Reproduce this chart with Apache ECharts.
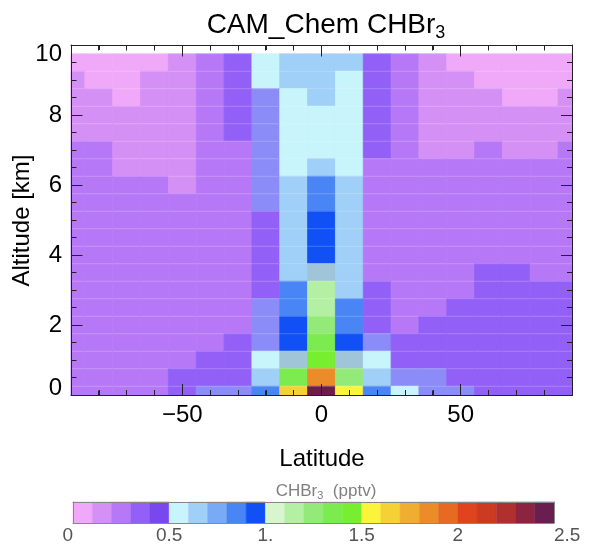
<!DOCTYPE html>
<html><head><meta charset="utf-8">
<script src="https://cdn.jsdelivr.net/npm/echarts@6/dist/echarts.min.js"></script>
<style>html,body{margin:0;padding:0;background:#fff}#c{width:600px;height:544px}</style>
</head><body><div id="c"></div>
<script>
// ---- data ----
var latitudes = [-90,-80,-70,-60,-50,-40,-30,-20,-10,0,10,20,30,40,50,60,70,80,90];
var altitudes = [9.5,9,8.5,8,7.5,7,6.5,6,5.5,5,4.5,4,3.5,3,2.5,2,1.5,1,0.5,0];
// CHBr3 (pptv), one row per altitude (top to bottom), one value per latitude
var chbr3 = [
 [.05,.05,.05,.05,.15,.25,.35,.55,.65,.65,.65,.35,.25,.15,.05,.05,.05,.05,.05],
 [.15,.05,.05,.15,.15,.25,.35,.55,.65,.65,.55,.35,.25,.15,.15,.05,.05,.05,.05],
 [.15,.15,.05,.15,.15,.25,.35,.5,.55,.65,.55,.35,.25,.15,.15,.15,.05,.05,.15],
 [.15,.15,.15,.15,.15,.25,.35,.5,.55,.55,.55,.35,.25,.15,.15,.15,.15,.15,.15],
 [.15,.15,.15,.15,.15,.25,.35,.5,.55,.55,.55,.35,.25,.15,.15,.15,.15,.15,.15],
 [.25,.25,.15,.15,.15,.25,.25,.5,.55,.55,.55,.35,.25,.15,.15,.25,.15,.15,.25],
 [.25,.25,.15,.15,.15,.25,.25,.5,.55,.65,.55,.25,.25,.25,.25,.25,.25,.25,.25],
 [.25,.25,.25,.25,.15,.25,.25,.5,.65,.85,.65,.25,.25,.25,.25,.25,.25,.25,.25],
 [.25,.25,.25,.25,.25,.25,.25,.5,.65,.85,.65,.25,.25,.25,.25,.25,.25,.25,.25],
 [.25,.25,.25,.25,.25,.25,.25,.35,.65,.95,.65,.25,.25,.25,.25,.25,.25,.25,.25],
 [.25,.25,.25,.25,.25,.25,.25,.35,.65,.95,.65,.25,.25,.25,.25,.25,.25,.25,.25],
 [.25,.25,.25,.25,.25,.25,.25,.35,.65,.95,.65,.25,.25,.25,.25,.25,.25,.25,.25],
 [.25,.25,.25,.25,.25,.25,.25,.35,.65,1.0,.65,.25,.25,.25,.25,.35,.35,.25,.25],
 [.25,.25,.25,.25,.25,.25,.25,.35,.85,1.15,.65,.35,.25,.25,.25,.35,.35,.35,.35],
 [.25,.25,.25,.25,.25,.25,.25,.5,.85,1.15,.85,.35,.25,.25,.35,.35,.35,.35,.35],
 [.25,.25,.25,.25,.25,.25,.25,.5,.95,1.25,.85,.35,.25,.35,.35,.35,.35,.35,.35],
 [.25,.25,.25,.25,.25,.25,.35,.5,.95,1.35,.95,.5,.35,.35,.35,.35,.35,.35,.35],
 [.25,.25,.25,.25,.25,.35,.35,.55,1.0,1.45,1.0,.55,.35,.35,.35,.35,.35,.35,.35],
 [.25,.25,.25,.25,.35,.35,.35,.65,1.35,1.85,1.25,.65,.5,.5,.35,.35,.35,.35,.35],
 [.25,.25,.25,.25,.35,.5,.5,.85,1.65,2.45,1.55,.85,.55,.5,.5,.35,.35,.35,.35]
];
// colour levels (colour bar)
var levels = [0,0.1,0.2,0.3,0.4,0.5,0.6,0.7,0.8,0.9,1.0,1.1,1.2,1.3,1.4,1.5,1.6,1.7,1.8,1.9,2.0,2.1,2.2,2.3,2.4,2.5];
var levelColors = ['#f0a8f8','#d590f5','#b778f7','#9260f7','#7848ee',
                   '#c8f4fc','#a0cff8','#78aaf5','#4a85f5','#1050f5',
                   '#d8f6ce','#b4f0a4','#94ea78','#7ceb50','#78ee30',
                   '#faf53a','#f6d135','#f0ae30','#ec8c28','#e86a22',
                   '#e0441e','#cc3a22','#b03030','#8c2440','#6a1e50'];
var boundaryValues = [0.5, 1.0];
var boundaryColors = ['#8c8cf8', '#a0c4d8'];
var xTickLabels = [-50, 0, 50];
var yTickLabels = [0, 2, 4, 6, 8, 10];
var cbTickLabels = [0, 0.5, 1, 1.5, 2, 2.5];

// ---- build ----
var FONT = "'Liberation Sans', Arial, Helvetica, sans-serif";
var latStep = latitudes[1] - latitudes[0];
var altStep = altitudes[0] - altitudes[1];
var cells = [];
for (var r = 0; r < altitudes.length; r++)
  for (var c = 0; c < latitudes.length; c++)
    cells.push([latitudes[c], altitudes[r], chbr3[r][c]]);
var bar = [];
for (var i = 0; i < levels.length - 1; i++)
  bar.push([levels[i], levels[i + 1], (levels[i] + levels[i + 1]) / 2]);

var pieces = [];
for (var k = 0; k < levelColors.length; k++) {
  var lo = levels[k], hi = levels[k + 1], p = {color: levelColors[k]};
  if (boundaryValues.indexOf(lo) >= 0) p.gt = lo; else p.gte = lo;
  if (boundaryValues.indexOf(hi) >= 0 || k < levelColors.length - 1) p.lt = hi; else p.lte = hi;
  pieces.push(p);
}
boundaryValues.forEach(function (v, j) { pieces.push({value: v, color: boundaryColors[j]}); });

function cellItem(params, api) {
  var lat = api.value(0), alt = api.value(1);
  var a = api.coord([lat - latStep / 2, alt + altStep / 2]);
  var b = api.coord([lat + latStep / 2, alt - altStep / 2]);
  var cs = params.coordSys;
  var shape = echarts.graphic.clipRectByRect(
    {x: a[0], y: a[1], width: b[0] - a[0], height: b[1] - a[1]},
    {x: cs.x, y: cs.y, width: cs.width, height: cs.height});
  if (!shape) return null;
  var col = api.visual('color');
  return {type: 'group', children: [
    {type: 'rect', shape: shape, style: {fill: col, stroke: col, lineWidth: 0.8}},
    {type: 'line', shape: {x1: shape.x, y1: shape.y, x2: shape.x + shape.width, y2: shape.y},
     style: {stroke: 'rgba(255,255,255,0.2)', lineWidth: 1}}
  ]};
}
function barItem(params, api) {
  var a = api.coord([api.value(0), 1]);
  var b = api.coord([api.value(1), 0]);
  var col = api.visual('color');
  return {type: 'rect', shape: {x: a[0], y: a[1], width: b[0] - a[0], height: b[1] - a[1]},
          style: {fill: col, stroke: col, lineWidth: 0.5}};
}

var ink = '#000';
function frame(color) { return {show: true, onZero: false, lineStyle: {color: color || '#222', width: 1}}; }
function noLine() { return {show: false, onZero: false}; }
function ticks(len, extra) {
  var t = {show: true, inside: true, length: len, lineStyle: {color: '#222', width: 1}};
  if (extra) t.customValues = extra;
  return t;
}
function minor() { return {show: true, splitNumber: 4, length: 5, lineStyle: {color: '#222', width: 1}}; }
function font(size, color) { return {fontFamily: FONT, fontSize: size, color: color || ink}; }
function fmtLat(v) { return v < 0 ? '\u2212' + Math.abs(v) : String(v); }
function fmtAlt(v) {
  if (v === yTickLabels[yTickLabels.length - 1]) return '{t|' + v + '}';
  if (v === yTickLabels[0]) return '{b|' + v + '}';
  return String(v);
}
function ext(a, b) { for (var key in b) a[key] = b[key]; return a; }

var option = {
  backgroundColor: '#fff',
  animation: false,
  title: [
    {text: 'CAM_Chem CHBr{s|3}', left: 321, top: 4, textAlign: 'center',
     textStyle: ext(font(28), {fontWeight: 'normal', lineHeight: 33,
       rich: {s: ext(font(18), {verticalAlign: 'bottom', lineHeight: 33})}})},
    {text: 'CHBr{s|3}  (pptv)', left: 321, top: 476, textAlign: 'center',
     textStyle: {fontFamily: FONT, fontSize: 17, fontWeight: 'normal', color: '#808080', lineHeight: 20,
       rich: {s: {fontFamily: FONT, fontSize: 11, color: '#808080', verticalAlign: 'bottom', lineHeight: 20}}}}
  ],
  grid: [
    {left: 71, top: 45, width: 501, height: 350, containLabel: false, outerBoundsMode: 'none'},
    {left: 73, top: 502, width: 481, height: 21, containLabel: false, outerBoundsMode: 'none'}
  ],
  visualMap: {type: 'piecewise', show: false, dimension: 2, seriesIndex: [0, 1], pieces: pieces},
  xAxis: [
    {gridIndex: 0, type: 'value', min: -90, max: 90, position: 'bottom', z: 10,
     axisLine: frame(), splitLine: {show: false}, axisTick: ticks(11, xTickLabels),
     axisLabel: ext(font(24), {customValues: xTickLabels, formatter: fmtLat, margin: 8})},
    {gridIndex: 0, type: 'value', min: -90, max: 90, interval: latStep, position: 'bottom', z: 10,
     axisLine: noLine(), splitLine: {show: false}, axisLabel: {show: false}, axisTick: ticks(5)},
    {gridIndex: 0, type: 'value', min: -90, max: 90, position: 'top', z: 10,
     axisLine: frame(), splitLine: {show: false}, axisLabel: {show: false}, axisTick: ticks(11, xTickLabels)},
    {gridIndex: 0, type: 'value', min: -90, max: 90, interval: latStep, position: 'top', z: 10,
     axisLine: noLine(), splitLine: {show: false}, axisLabel: {show: false}, axisTick: ticks(5)},
    {gridIndex: 1, type: 'value', min: 0, max: 2.5, interval: 0.5, position: 'bottom', z: 10,
     axisLine: frame('#888'), splitLine: {show: false}, axisTick: {show: false},
     axisLabel: {customValues: cbTickLabels, margin: 3, fontFamily: FONT, fontSize: 19, color: '#555',
       alignMinLabel: 'right', alignMaxLabel: 'left',
       formatter: function (v) { return v === 1 ? '1.' : String(v); }}},
    {gridIndex: 1, type: 'value', min: 0, max: 2.5, position: 'top', z: 10,
     axisLine: frame('#888'), splitLine: {show: false}, axisTick: {show: false}, axisLabel: {show: false}}
  ],
  yAxis: [
    {gridIndex: 0, type: 'value', min: 0, max: 10, interval: 2, position: 'left', z: 10,
     axisLine: frame(), splitLine: {show: false}, axisTick: ticks(11), minorTick: minor(),
     axisLabel: ext(font(24), {formatter: fmtAlt, margin: 9,
       rich: {t: ext(font(24), {padding: [18, 0, 0, 0]}), b: ext(font(24), {padding: [0, 0, 14, 0]})}})},
    {gridIndex: 0, type: 'value', min: 0, max: 10, interval: 2, position: 'right', z: 10,
     axisLine: frame(), splitLine: {show: false}, axisLabel: {show: false},
     axisTick: ticks(11), minorTick: minor()},
    {gridIndex: 1, type: 'value', min: 0, max: 1, position: 'left', z: 10,
     axisLine: frame('#888'), splitLine: {show: false}, axisTick: {show: false}, axisLabel: {show: false}},
    {gridIndex: 1, type: 'value', min: 0, max: 1, position: 'right', z: 10,
     axisLine: frame('#888'), splitLine: {show: false}, axisTick: {show: false}, axisLabel: {show: false}}
  ],
  series: [
    {type: 'custom', xAxisIndex: 0, yAxisIndex: 0, renderItem: cellItem, data: cells},
    {type: 'custom', xAxisIndex: 4, yAxisIndex: 2, renderItem: barItem, data: bar, encode: {x: [0, 1], y: 2}}
  ]
};
var chart = echarts.init(document.getElementById('c'));
chart.setOption(option);

// Plot frame, inward ticks and axis titles, positioned through the chart's own axis scales
try {
  var toPx = function (x, y) { return chart.convertToPixel({xAxisIndex: 0, yAxisIndex: 0}, [x, y]); };
  var snap = function (v) { return Math.round(v - 0.5) + 0.5; };
  var lt = toPx(-90, 10), rb = toPx(90, 0);
  var L = snap(lt[0]), T = snap(lt[1]), R = snap(rb[0]), B = snap(rb[1]);
  var els = [];
  var seg = function (x1, y1, x2, y2) {
    els.push({type: 'line', z: 100, silent: true, shape: {x1: x1, y1: y1, x2: x2, y2: y2},
              style: {stroke: '#222', lineWidth: 1}});
  };
  seg(L, T, R, T); seg(L, B, R, B); seg(L, T, L, B); seg(R, T, R, B);
  var xt = function (v, len) { var x = snap(toPx(v, 0)[0]); seg(x, B, x, B - len); seg(x, T, x, T + len); };
  var yt = function (v, len) { var y = snap(toPx(0, v)[1]); seg(L, y, L + len, y); seg(R, y, R - len, y); };
  latitudes.forEach(function (v) { xt(v, 5); });
  xTickLabels.forEach(function (v) { xt(v, 11); });
  altitudes.forEach(function (v) { yt(v, 5); });
  yTickLabels.forEach(function (v) { yt(v, 11); });
  els.push({type: 'text', z: 100, silent: true, x: (L + R) / 2, y: B + 64,
            style: {text: 'Latitude', font: '24px ' + FONT, fill: ink, align: 'center', verticalAlign: 'middle'}});
  els.push({type: 'text', z: 100, silent: true, x: L - 49, y: (T + B) / 2, rotation: Math.PI / 2,
            style: {text: 'Altitude [km]', font: '24px ' + FONT, fill: ink, align: 'center', verticalAlign: 'middle'}});
  chart.setOption({graphic: {elements: els}});
} catch (e) {}
</script>
</body></html>
